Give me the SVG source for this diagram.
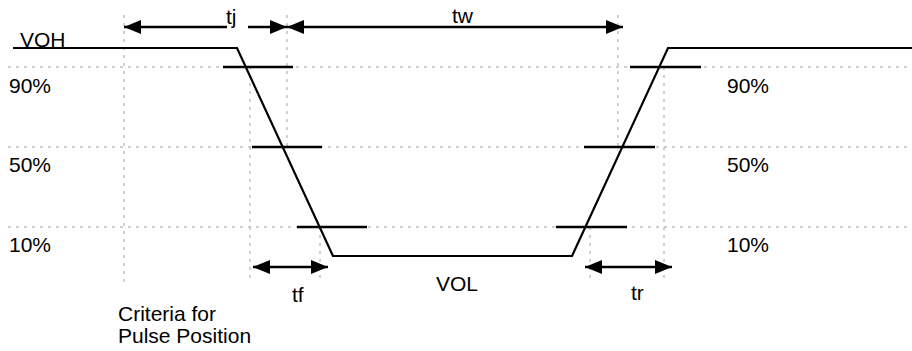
<svg xmlns="http://www.w3.org/2000/svg" width="912" height="351" viewBox="0 0 912 351">
  <style>
    .grid { stroke: #a0a0a0; stroke-width: 1; stroke-dasharray: 3 5; fill: none; }
    .wave { stroke: #000; stroke-width: 2.2; fill: none; stroke-linejoin: miter; }
    .tick { stroke: #000; stroke-width: 2.5; fill: none; }
    .dim { stroke: #000; stroke-width: 2.5; fill: none; }
    .lbl { font-family: "Liberation Sans", Arial, sans-serif; font-size: 21px; fill: #000; }
  </style>
  <defs>
    <marker id="ah" markerUnits="userSpaceOnUse" markerWidth="18" markerHeight="14" refX="17" refY="7" orient="auto-start-reverse" viewBox="0 0 18 14">
      <path d="M0,0 L17,7 L0,14 z" fill="#000"/>
    </marker>
  </defs>

  <g id="grid">
    <line class="grid" x1="8" y1="67" x2="912" y2="67"/>
    <line class="grid" x1="8" y1="147" x2="912" y2="147"/>
    <line class="grid" x1="8" y1="227" x2="912" y2="227"/>
    <line class="grid" x1="124" y1="15" x2="124" y2="283"/>
    <line class="grid" x1="287" y1="15" x2="287" y2="147"/>
    <line class="grid" x1="250" y1="67" x2="250" y2="283"/>
    <line class="grid" x1="320" y1="227" x2="320" y2="283"/>
    <line class="grid" x1="618" y1="15" x2="618" y2="147"/>
    <line class="grid" x1="664" y1="67" x2="664" y2="283"/>
    <line class="grid" x1="590" y1="227" x2="590" y2="283"/>
  </g>

  <g id="waveform">
    <polyline class="wave" points="13,48 237,48 333,256 572,256 668,48 912,48"/>
  </g>

  <g id="ticks">
    <line class="tick" x1="223" y1="67" x2="293" y2="67"/>
    <line class="tick" x1="252" y1="147" x2="322" y2="147"/>
    <line class="tick" x1="297" y1="227" x2="367" y2="227"/>
    <line class="tick" x1="630" y1="67" x2="701" y2="67"/>
    <line class="tick" x1="584" y1="147" x2="655" y2="147"/>
    <line class="tick" x1="556" y1="227" x2="627" y2="227"/>
  </g>

  <g id="connectors">
    <line class="dim" x1="124" y1="27" x2="227" y2="27" marker-start="url(#ah)"/>
    <line class="dim" x1="248" y1="27" x2="287" y2="27" marker-end="url(#ah)"/>
    <line class="dim" x1="287" y1="27" x2="623" y2="27" marker-start="url(#ah)" marker-end="url(#ah)"/>
    <line class="dim" x1="253" y1="267" x2="328" y2="267" marker-start="url(#ah)" marker-end="url(#ah)"/>
    <line class="dim" x1="585" y1="267" x2="672" y2="267" marker-start="url(#ah)" marker-end="url(#ah)"/>
  </g>

  <g id="labels">
    <text class="lbl" x="20" y="47">VOH</text>
    <text class="lbl" x="226" y="24">tj</text>
    <text class="lbl" x="452" y="23">tw</text>
    <text class="lbl" x="9" y="93">90%</text>
    <text class="lbl" x="9" y="172">50%</text>
    <text class="lbl" x="9" y="252">10%</text>
    <text class="lbl" x="727" y="93">90%</text>
    <text class="lbl" x="727" y="172">50%</text>
    <text class="lbl" x="727" y="252">10%</text>
    <text class="lbl" x="436" y="291">VOL</text>
    <text class="lbl" x="292" y="302">tf</text>
    <text class="lbl" x="631" y="300">tr</text>
    <text class="lbl" x="118" y="321">Criteria for</text>
    <text class="lbl" x="118" y="343">Pulse Position</text>
  </g>
</svg>
